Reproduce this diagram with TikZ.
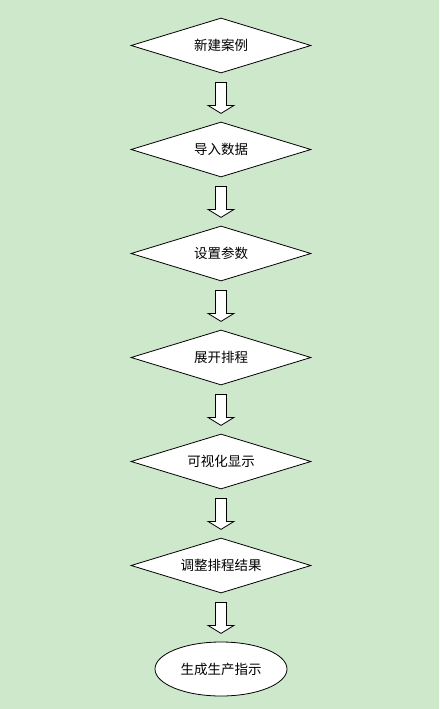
\documentclass[tikz,border=0pt]{standalone}
\usepackage{fontspec}
\setmainfont{Noto Sans CJK SC}
\usepackage{xcolor}
\usepackage{tikz}
\usetikzlibrary{shapes.geometric,calc}
\definecolor{paleleaf}{RGB}{206,232,204}
\tikzset{
  decision-node/.style={diamond, draw=black, fill=white, line width=0.8pt,
    aspect=3.27, minimum width=180pt, minimum height=55pt, inner sep=2pt,
    font=\fontsize{13.5}{15}\selectfont, align=center},
  terminal-node/.style={ellipse, draw=black, fill=white, line width=0.8pt,
    minimum width=132pt, minimum height=54pt, inner sep=2pt,
    font=\fontsize{13.5}{15}\selectfont, align=center},
  block-arrow/.style={draw=black, fill=white, line width=0.8pt, line join=miter}
}
\begin{document}
\begin{tikzpicture}[x=1pt,y=-1pt]
\fill[paleleaf] (0,0) rectangle (439,709);
\useasboundingbox (0,0) rectangle (439,709);
\node[decision-node] (create) at (221,45.5) {新建案例};
\node[decision-node] (import) at (221,149.5) {导入数据};
\node[decision-node] (params) at (221,253.5) {设置参数};
\node[decision-node] (expand) at (221,357.5) {展开排程};
\node[decision-node] (visual) at (221,461.5) {可视化显示};
\node[decision-node] (adjust) at (221,565.5) {调整排程结果};
\node[terminal-node] (output) at (221,669) {生成生产指示};
% hollow block arrows between the steps
\foreach \from in {create,import,params,expand,visual,adjust}
  \draw[block-arrow] ($(\from.south)+(-5.5,9)$) -- ++(0,23) -- ++(-7.5,0)
    -- ++(13,8) -- ++(13,-8) -- ++(-7.5,0) -- ++(0,-23) -- cycle;
\end{tikzpicture}
\end{document}
